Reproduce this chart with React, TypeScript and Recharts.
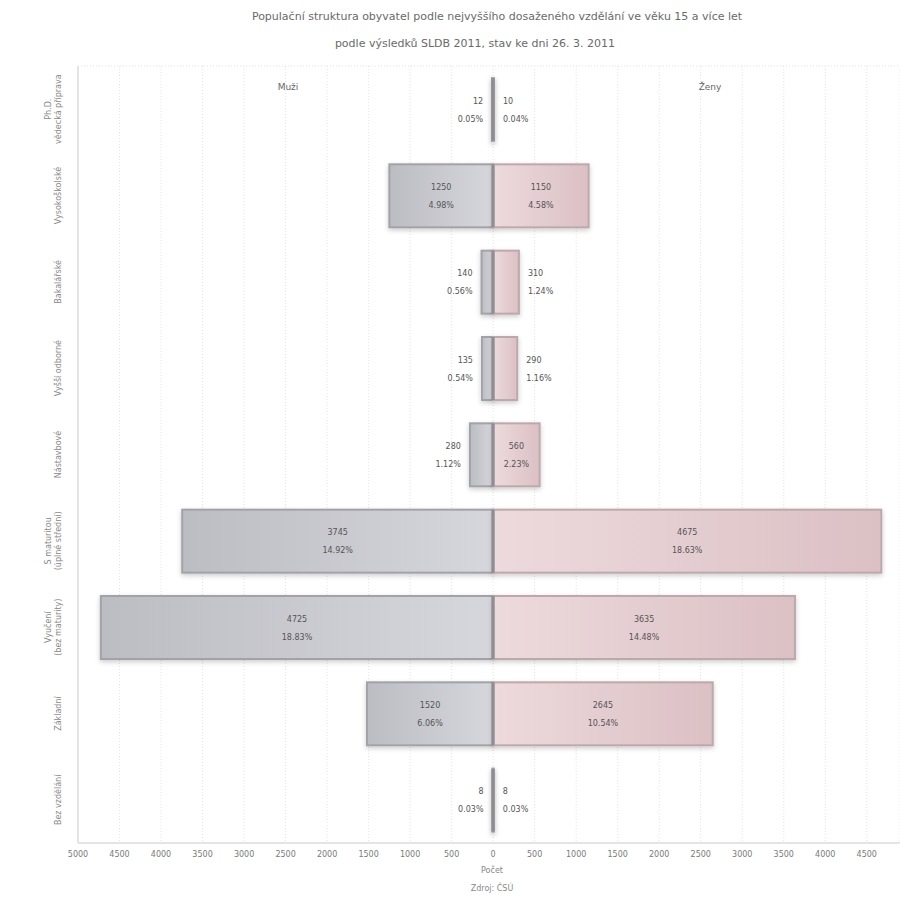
import React from 'react';
import { Bar, BarChart, CartesianGrid, LabelList, XAxis, YAxis } from 'recharts';

// education levels, top row first
const categories = [
    'Doktorské',
    'Vysokoškolské',
    'Bakalářské',
    'Vyšší odborné',
    'Nástavbové',
    'Úplné střední',
    'Vyučení',
    'Základní',
    'Bez vzdělání',
];
const categoryLines = [
    ['Ph.D.', 'vědecká příprava'],
    ['Vysokoškolské'],
    ['Bakalářské'],
    ['Vyšší odborné'],
    ['Nástavbové'],
    ['S maturitou', '(úplné střední)'],
    ['Vyučení', '(bez maturity)'],
    ['Základní'],
    ['Bez vzdělání'],
];
const menValues = [12, 1250, 140, 135, 280, 3745, 4725, 1520, 8];
const womenValues = [10, 1150, 310, 290, 560, 4675, 3635, 2645, 8];
const xTicks = [-5000, -4500, -4000, -3500, -3000, -2500, -2000, -1500, -1000, -500, 0, 500, 1000, 1500, 2000, 2500, 3000, 3500, 4000, 4500];

const total = [...menValues, ...womenValues].reduce((a, b) => a + b, 0);
const data = categories.map((category, i) => ({
    category,
    men: -menValues[i],
    women: womenValues[i],
}));

const pct = (v: number) => ((v / total) * 100).toFixed(2) + '%';

const CategoryTick = (props: any) => {
    const { y, payload } = props;
    const idx = categories.indexOf(payload.value);
    const lines = categoryLines[idx] || [payload.value];
    const xs = lines.length === 2 ? [51, 61] : [61];
    return (
        <g>
            {lines.map((line, k) => (
                <text
                    key={k}
                    x={xs[k]}
                    y={y}
                    transform={`rotate(-90 ${xs[k]} ${y})`}
                    textAnchor="middle"
                    fontSize={8}
                    fill="#8a8a8a"
                >
                    {line}
                </text>
            ))}
        </g>
    );
};

const makeShape = (side: 'men' | 'women') => (props: any) => {
    const { x, y, width, height } = props;
    const left = Math.min(x, x + width);
    const w = Math.abs(width);
    const zeroX = side === 'men' ? left + w : left;
    return (
        <g>
            <rect
                x={left}
                y={y}
                width={w}
                height={height}
                fill={side === 'men' ? 'url(#menGrad)' : 'url(#womenGrad)'}
                stroke={side === 'men' ? '#a2a2a8' : '#bda9ad'}
                strokeWidth={2}
                filter="url(#barShadow)"
            />
            <line x1={zeroX} x2={zeroX} y1={y} y2={y + height} stroke="#8e8e90" strokeWidth={3} />
        </g>
    );
};

const makeLabel = (side: 'men' | 'women') => (props: any) => {
    const { x, y, width, height, index } = props;
    const left = Math.min(x, x + width);
    const w = Math.abs(width);
    const value = side === 'men' ? menValues[index] : womenValues[index];
    const cy = y + height / 2;
    let tx = left + w / 2;
    let anchor: 'middle' | 'start' | 'end' = 'middle';
    if (w < 40) {
        if (side === 'men') {
            tx = left - 9;
            anchor = 'end';
        } else {
            tx = left + w + 9;
            anchor = 'start';
        }
    }
    return (
        <g>
            <text x={tx} y={cy - 6} textAnchor={anchor} fontSize={8} fill="#555">
                {value}
            </text>
            <text x={tx} y={cy + 12} textAnchor={anchor} fontSize={8} fill="#555">
                {pct(value)}
            </text>
        </g>
    );
};

const abs = (v: number) => String(Math.abs(v));

const App: React.FC = () => {
    return (
        <div style={{ position: 'absolute', left: 0, top: 0, width: 900, height: 897, fontFamily: 'DejaVu Sans', background: '#fff' }}>
            <div style={{ position: 'absolute', top: 10, left: 0, width: 994, textAlign: 'center', fontSize: 11, color: '#6a6a6a' }}>
                Populační struktura obyvatel podle nejvyššího dosaženého vzdělání ve věku 15 a více let
            </div>
            <div style={{ position: 'absolute', top: 37, left: 0, width: 950, textAlign: 'center', fontSize: 11, color: '#6a6a6a' }}>
                podle výsledků SLDB 2011, stav ke dni 26. 3. 2011
            </div>
            <div style={{ position: 'absolute', top: 82, left: 268, width: 40, textAlign: 'center', fontSize: 9, color: '#666' }}>
                Muži
            </div>
            <div style={{ position: 'absolute', top: 82, left: 690, width: 40, textAlign: 'center', fontSize: 9, color: '#666' }}>
                Ženy
            </div>
            <div style={{ position: 'absolute', top: 866, left: 440, width: 104, textAlign: 'center', fontSize: 8, color: '#888' }}>
                Počet
            </div>
            <div style={{ position: 'absolute', top: 884, left: 440, width: 104, textAlign: 'center', fontSize: 8, color: '#888' }}>
                Zdroj: ČSÚ
            </div>
            <BarChart
                width={900}
                height={897}
                data={data}
                layout="vertical"
                stackOffset="sign"
                barSize={63}
                margin={{ top: 66, right: 0, bottom: 0, left: 0 }}
                style={{ position: 'absolute', left: 0, top: 0 }}
            >
                <defs>
                    <linearGradient id="menGrad" x1="0" y1="0" x2="1" y2="0">
                        <stop offset="0%" stopColor="#bcbcc3" />
                        <stop offset="100%" stopColor="#d6d7dc" />
                    </linearGradient>
                    <linearGradient id="womenGrad" x1="0" y1="0" x2="1" y2="0">
                        <stop offset="0%" stopColor="#eddadc" />
                        <stop offset="100%" stopColor="#dbc0c4" />
                    </linearGradient>
                    <filter id="barShadow" filterUnits="userSpaceOnUse" x="0" y="0" width="900" height="897">
                        <feDropShadow dx="0" dy="2" stdDeviation="2.5" floodColor="#000" floodOpacity="0.2" />
                    </filter>
                </defs>
                <CartesianGrid
                    stroke="#e2e2e2"
                    strokeDasharray="1 2"
                    horizontalCoordinatesGenerator={({ offset }: any) => [offset.top]}
                />
                <XAxis
                    type="number"
                    domain={[-5000, 4900]}
                    ticks={xTicks}
                    tickFormatter={abs}
                    height={54}
                    axisLine={{ stroke: '#e4e4e4', strokeWidth: 2 }}
                    tickLine={false}
                    tick={{ fontSize: 8, fill: '#7a7a7a' }}
                    interval={0}
                />
                <YAxis
                    type="category"
                    dataKey="category"
                    width={78}
                    axisLine={{ stroke: '#e4e4e4', strokeWidth: 2 }}
                    tickLine={false}
                    tick={<CategoryTick />}
                    interval={0}
                />
                <Bar dataKey="men" stackId="pop" shape={makeShape('men')} isAnimationActive={false}>
                    <LabelList dataKey="men" content={makeLabel('men')} />
                </Bar>
                <Bar dataKey="women" stackId="pop" shape={makeShape('women')} isAnimationActive={false}>
                    <LabelList dataKey="women" content={makeLabel('women')} />
                </Bar>
            </BarChart>
        </div>
    );
};

export default App;
